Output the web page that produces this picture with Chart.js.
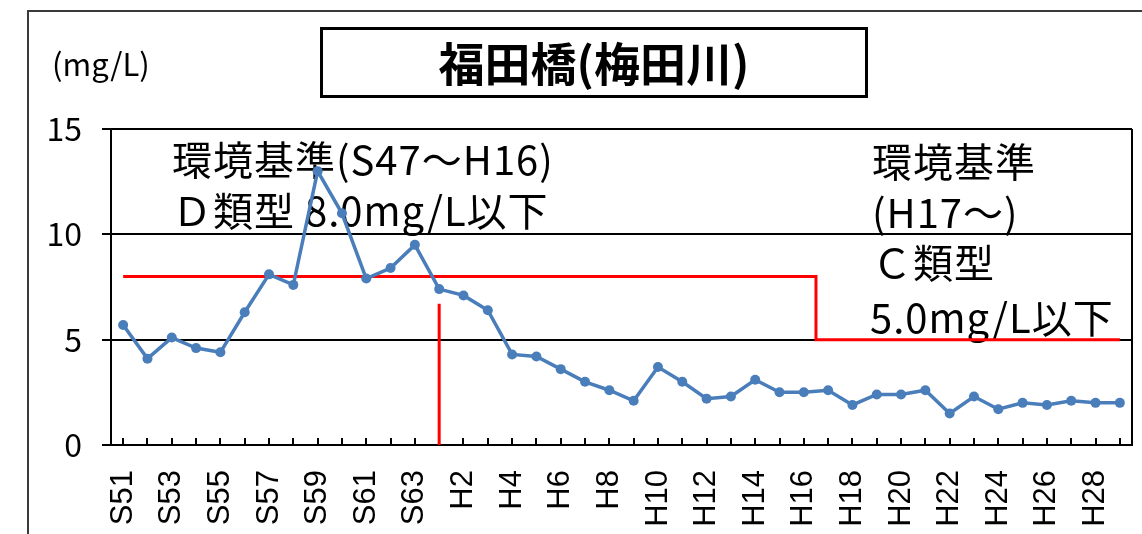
<!DOCTYPE html>
<html>
<head>
<meta charset="utf-8">
<title>福田橋(梅田川)</title>
<style>
  body { margin: 0; background: #fff; overflow: hidden; }
  #wrap { position: relative; width: 1142px; height: 534px; overflow: hidden; }
  #frame { position: absolute; left: 27px; top: 10px; width: 1200px; height: 600px; border: 2px solid #3a3a3a; }
  #title { position: absolute; left: 320px; top: 27px; width: 548px; height: 71px; box-sizing: border-box;
           border: 3px solid #000; font: bold 46px "Noto Sans CJK JP"; text-align: center; line-height: 63px; color: #000; }
  #unit { position: absolute; left: 52px; top: 40px; font: 31px "Noto Sans CJK JP"; color: #000; }
  canvas { position: absolute; left: 0; top: 0; }
</style>
</head>
<body>
<div id="wrap">
  <div id="frame"></div>
  <canvas id="bodChart" width="1142" height="534"></canvas>
  <div id="title">福田橋(梅田川)</div>
  <div id="unit">(mg/L)</div>
</div>

<script src="https://cdn.jsdelivr.net/npm/chart.js"></script>
<script>
// fiscal years S51..S63, H1..H29
const years = [
  'S51', 'S52', 'S53', 'S54', 'S55', 'S56', 'S57', 'S58', 'S59', 'S60', 'S61', 'S62', 'S63',
  'H1', 'H2', 'H3', 'H4', 'H5', 'H6', 'H7', 'H8', 'H9', 'H10', 'H11', 'H12', 'H13', 'H14', 'H15',
  'H16', 'H17', 'H18', 'H19', 'H20', 'H21', 'H22', 'H23', 'H24', 'H25', 'H26', 'H27', 'H28', 'H29'
];

// measured value (mg/L)
const bod = [
  5.7, 4.1, 5.1, 4.6, 4.4, 6.3, 8.1, 7.6, 13.0, 11.0, 7.9, 8.4, 9.5,
  7.4, 7.1, 6.4, 4.3, 4.2, 3.6, 3.0, 2.6, 2.1, 3.7, 3.0, 2.2, 2.3, 3.1, 2.5,
  2.5, 2.6, 1.9, 2.4, 2.4, 2.6, 1.5, 2.3, 1.7, 2.0, 1.9, 2.1, 2.0, 2.0
];

// environmental standard: D type 8.0 until H16, C type 5.0 from H17
const standard = [
  8, 8, 8, 8, 8, 8, 8, 8, 8, 8, 8, 8, 8,
  8, 8, 8, 8, 8, 8, 8, 8, 8, 8, 8, 8, 8, 8, 8,
  8, 5, 5, 5, 5, 5, 5, 5, 5, 5, 5, 5, 5, 5
];

// red marker at the start of Heisei
const markerYear = 'H1';
const markerTop = 6.7;

const xTickLabels = [
  'S51', 'S53', 'S55', 'S57', 'S59', 'S61', 'S63',
  'H2', 'H4', 'H6', 'H8', 'H10', 'H12', 'H14', 'H16', 'H18', 'H20', 'H22', 'H24', 'H26', 'H28'
];
const yTicks = [0, 5, 10, 15];

const notes = [
  ['環境基準(S47～H16)', 172, 160],
  ['Ｄ類型 8.0mg/L以下', 172, 211],
  ['環境基準', 872, 162],
  ['(H17～)', 872, 213],
  ['Ｃ類型', 872, 263],
  ['5.0mg/L以下', 870, 318]
];

const notesPlugin = {
  id: 'notes',
  beforeDatasetsDraw(chart) {
    const ctx = chart.ctx;
    ctx.save();
    ctx.font = '40px "Noto Sans CJK JP"';
    ctx.letterSpacing = '1px';
    ctx.fillStyle = '#000';
    ctx.textBaseline = 'middle';
    ctx.textAlign = 'left';
    notes.forEach(n => ctx.fillText(n[0], n[1], n[2]));
    ctx.restore();
  },
  afterDraw(chart) {
    const a = chart.chartArea;
    const ctx = chart.ctx;
    ctx.save();
    ctx.strokeStyle = '#000';
    ctx.lineWidth = 2;
    ctx.beginPath();
    ctx.moveTo(a.right, a.top);
    ctx.lineTo(a.right, a.bottom);
    ctx.stroke();
    ctx.restore();
  }
};

const ctx = document.getElementById('bodChart');
new Chart(ctx, {
  type: 'line',
  data: {
    labels: years,
    datasets: [
      {
        label: '福田橋',
        data: bod,
        borderColor: '#4a7ebb',
        backgroundColor: '#4a7ebb',
        borderWidth: 3.5,
        pointRadius: 5,
        pointBorderWidth: 0,
        tension: 0
      },
      {
        label: '環境基準',
        data: standard,
        borderColor: '#ff0000',
        borderWidth: 3,
        pointRadius: 0,
        stepped: 'middle'
      },
      {
        label: 'marker',
        data: [{ x: markerYear, y: 0 }, { x: markerYear, y: markerTop }],
        borderColor: '#ff0000',
        borderWidth: 3,
        pointRadius: 0
      }
    ]
  },
  options: {
    responsive: false,
    animation: false,
    devicePixelRatio: 1,
    layout: { padding: { top: 129, right: 10, left: 27, bottom: 0 } },
    plugins: {
      legend: { display: false },
      tooltip: { enabled: false },
      title: { display: false }
    },
    scales: {
      x: {
        offset: true,
        grid: { offset: false, drawOnChartArea: false, drawTicks: true, tickLength: -7, color: '#000', lineWidth: 2 },
        border: { color: '#000', width: 2 },
        ticks: {
          autoSkip: false,
          minRotation: 90,
          maxRotation: 90,
          padding: 32,
          color: '#000',
          font: { family: 'Liberation Sans', size: 31 },
          callback: function (v) {
            const l = this.getLabelForValue(v);
            return xTickLabels.includes(l) ? l : '';
          }
        },
        afterFit(s) {
          s.height = 89;
          s.paddingLeft = 0;
          s.paddingRight = 0;
        }
      },
      y: {
        min: 0,
        max: 15,
        afterBuildTicks(s) { s.ticks = yTicks.map(v => ({ value: v })); },
        grid: { color: '#000', lineWidth: 2, tickLength: 9 },
        border: { color: '#000', width: 2 },
        ticks: { padding: 20, color: '#000', font: { family: 'Noto Sans CJK JP', size: 32 } },
        afterFit(s) { s.width = 84; }
      }
    }
  },
  plugins: [notesPlugin]
});
</script>
</body>
</html>
